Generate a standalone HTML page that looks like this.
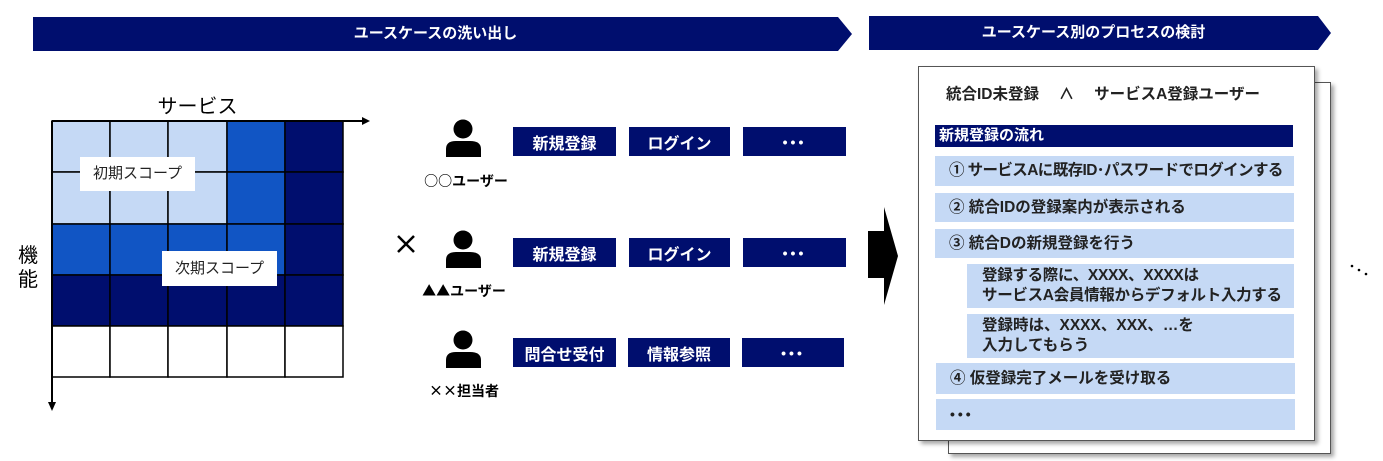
<!DOCTYPE html>
<html><head><meta charset="utf-8"><style>
body{margin:0;width:1383px;height:461px;background:#fff;position:relative;overflow:hidden;font-family:"Liberation Sans","Noto Sans CJK JP",sans-serif;}
.a{position:absolute;}
.btn{position:absolute;background:#000e6e;color:#fff;font-weight:bold;font-size:16px;display:flex;align-items:center;justify-content:center;height:29px;}
.dots{font-size:14px;letter-spacing:3px;}
.lbl{position:absolute;font-size:14px;font-weight:bold;color:#000;width:100px;text-align:center;font-family:"Noto Sans CJK JP",sans-serif;}
.row{position:absolute;background:#c5d9f5;font-size:15.5px;font-weight:bold;color:#222;box-sizing:border-box;white-space:nowrap;}
.sh{box-shadow:3px 3px 4px rgba(0,0,0,0.35);}
</style></head><body>
<svg class="a" style="left:0;top:0" width="1383" height="461">
<polygon points="33,17 838,17 852,34 838,51 33,51" fill="#000e6e"/>
<polygon points="869,16 1318,16 1331,33 1318,50 869,50" fill="#000e6e"/>
<g stroke="#000" stroke-width="1.5">
<rect x="52" y="121" width="58" height="51" fill="#c5d9f5"/><rect x="110" y="121" width="58" height="51" fill="#c5d9f5"/><rect x="168" y="121" width="59" height="51" fill="#c5d9f5"/><rect x="227" y="121" width="58" height="51" fill="#1155c4"/><rect x="285" y="121" width="58" height="51" fill="#000e6e"/>
<rect x="52" y="172" width="58" height="52" fill="#c5d9f5"/><rect x="110" y="172" width="58" height="52" fill="#c5d9f5"/><rect x="168" y="172" width="59" height="52" fill="#c5d9f5"/><rect x="227" y="172" width="58" height="52" fill="#1155c4"/><rect x="285" y="172" width="58" height="52" fill="#000e6e"/>
<rect x="52" y="224" width="58" height="51" fill="#1155c4"/><rect x="110" y="224" width="58" height="51" fill="#1155c4"/><rect x="168" y="224" width="59" height="51" fill="#1155c4"/><rect x="227" y="224" width="58" height="51" fill="#1155c4"/><rect x="285" y="224" width="58" height="51" fill="#000e6e"/>
<rect x="52" y="275" width="58" height="51" fill="#000e6e"/><rect x="110" y="275" width="58" height="51" fill="#000e6e"/><rect x="168" y="275" width="59" height="51" fill="#000e6e"/><rect x="227" y="275" width="58" height="51" fill="#000e6e"/><rect x="285" y="275" width="58" height="51" fill="#000e6e"/>
<rect x="52" y="326" width="58" height="51" fill="#fff"/><rect x="110" y="326" width="58" height="51" fill="#fff"/><rect x="168" y="326" width="59" height="51" fill="#fff"/><rect x="227" y="326" width="58" height="51" fill="#fff"/><rect x="285" y="326" width="58" height="51" fill="#fff"/>
<line x1="52" y1="121" x2="362" y2="121" stroke-width="2"/><line x1="52" y1="121" x2="52" y2="402" stroke-width="2"/>
</g>
<polygon points="362,117 370,121 362,125" fill="#000"/><polygon points="48,402 52,411 56,402" fill="#000"/>
<g fill="#000">
<circle cx="463" cy="129" r="9.5"/><path d="M446,157 L446,149 Q446,141 456,141 L470,141 Q481,141 481,149 L481,157 Z"/>
<circle cx="463" cy="240" r="9.5"/><path d="M446,268 L446,260 Q446,252 456,252 L470,252 Q481,252 481,260 L481,268 Z"/>
<circle cx="463" cy="340" r="9.5"/><path d="M446,368 L446,360 Q446,352 456,352 L470,352 Q481,352 481,360 L481,368 Z"/>
<polygon points="868,231 884,231 884,207 898,256 884,305 884,278 868,278"/>
<circle cx="1352" cy="266" r="1.3"/><circle cx="1359" cy="270" r="1.3"/><circle cx="1366" cy="274" r="1.3"/>
</g>
<path d="M398,236 L414,252 M414,236 L398,252" stroke="#000" stroke-width="2.5"/>
</svg>
<div class="a" style="left:33px;top:17px;width:805px;height:34px;line-height:34px;text-align:center;color:#fff;font-weight:bold;font-size:15px">ユースケースの洗い出し</div>
<div class="a" style="left:869px;top:16px;width:449px;height:34px;line-height:34px;text-align:center;color:#fff;font-weight:bold;font-size:15px">ユースケース別のプロセスの検討</div>
<div class="a" style="left:150px;top:90px;width:95px;text-align:center;font-size:20px">サービス</div>
<div class="a" style="left:18px;top:244px;width:24px;font-size:20px;line-height:24px">機<br>能</div>
<div class="a" style="left:80px;top:157px;width:115px;height:34px;background:#fff;line-height:34px;text-align:center;font-size:15px;color:#222">初期スコープ</div>
<div class="a" style="left:162px;top:251px;width:115px;height:35px;background:#fff;line-height:35px;text-align:center;font-size:15px;color:#222">次期スコープ</div>
<div class="btn" style="left:513px;top:127px;width:103px">新規登録</div><div class="btn" style="left:629px;top:127px;width:101px">ログイン</div><div class="btn dots" style="left:743px;top:127px;width:103px">•••</div>
<div class="btn" style="left:513px;top:238px;width:103px">新規登録</div><div class="btn" style="left:629px;top:238px;width:101px">ログイン</div><div class="btn dots" style="left:743px;top:238px;width:103px">•••</div>
<div class="btn" style="left:513px;top:338px;width:103px">問合せ受付</div><div class="btn" style="left:628px;top:338px;width:102px">情報参照</div><div class="btn dots" style="left:742px;top:338px;width:102px">•••</div>
<div class="lbl" style="left:416px;top:171px">○○ユーザー</div>
<div class="lbl" style="left:414px;top:281px">▲▲ユーザー</div>
<div class="lbl" style="left:414px;top:381px">××担当者</div>
<div class="a sh" style="left:948px;top:82px;width:383px;height:372px;border:1.5px solid #555;background:#fff;box-sizing:border-box"></div>
<div class="a sh" style="left:918px;top:66px;width:397px;height:375px;border:1.5px solid #555;background:#fff;box-sizing:border-box"></div>
<div class="a" style="left:946px;top:82px;font-size:15.5px;font-weight:bold;color:#222;white-space:pre">統合ID未登録　 ∧ 　サービスA登録ユーザー</div>
<div class="a" style="left:935px;top:125px;width:358px;height:22px;background:#000e6e;color:#fff;font-weight:bold;font-size:15px;line-height:22px;padding-left:4px;box-sizing:border-box">新規登録の流れ</div>
<div class="row" style="left:935px;top:156px;width:359px;height:30px;line-height:30px;padding-left:14px;letter-spacing:-0.6px">① サービスAに既存ID･パスワードでログインする</div>
<div class="row" style="left:935px;top:193px;width:359px;height:29px;line-height:29px;padding-left:14px">② 統合IDの登録案内が表示される</div>
<div class="row" style="left:935px;top:229px;width:359px;height:29px;line-height:29px;padding-left:14px">③ 統合Dの新規登録を行う</div>
<div class="row" style="left:967px;top:264px;width:327px;height:44px;line-height:20px;padding:2px 0 0 15px;letter-spacing:-0.3px">登録する際に、XXXX、XXXXは<br>サービスA会員情報からデフォルト入力する</div>
<div class="row" style="left:967px;top:314px;width:327px;height:44px;line-height:20px;padding:2px 0 0 15px">登録時は、XXXX、XXX、…を<br>入力してもらう</div>
<div class="row" style="left:936px;top:363px;width:359px;height:31px;line-height:31px;padding-left:14px">④ 仮登録完了メールを受け取る</div>
<div class="row" style="left:936px;top:399px;width:359px;height:31px;line-height:31px;padding-left:14px;letter-spacing:3px;font-size:14px">•••</div>
</body></html>
